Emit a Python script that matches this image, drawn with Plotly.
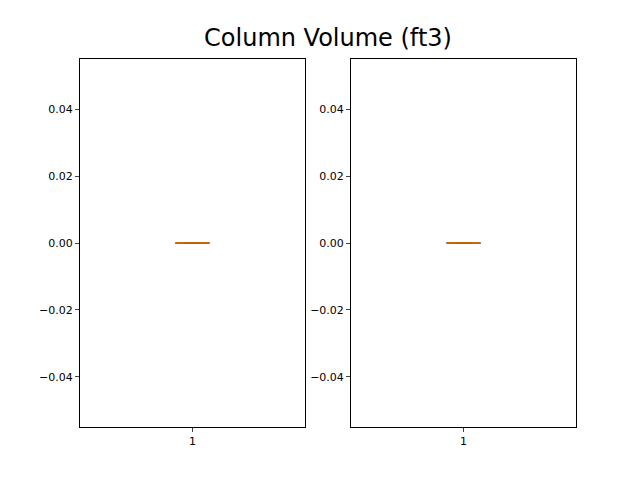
import numpy as np
import plotly.graph_objects as go
from plotly.subplots import make_subplots

# Column volume samples (all zero)
volumes_a = [0.0, 0.0, 0.0, 0.0]
volumes_b = [0.0, 0.0, 0.0, 0.0]
positions = [1]
yticks = [-0.04, -0.02, 0.0, 0.02, 0.04]

fig = make_subplots(rows=1, cols=2, horizontal_spacing=0.093)

for col, vals in [(1, volumes_a), (2, volumes_b)]:
    fig.add_trace(go.Box(x=[positions[0]] * len(vals), y=vals, width=0.15,
                         line=dict(color="black", width=1), fillcolor="rgba(0,0,0,0)",
                         boxpoints=False, showlegend=False), row=1, col=col)
    med = float(np.median(vals))
    fig.add_trace(go.Scatter(x=[positions[0] - 0.075, positions[0] + 0.075], y=[med, med],
                             mode="lines", line=dict(color="#ff7f0e", width=1.5),
                             showlegend=False, hoverinfo="skip"), row=1, col=col)
    fig.update_xaxes(range=[0.5, 1.5], tickvals=positions, ticktext=["1"],
                     showline=True, mirror=True, linecolor="black", ticks="outside",
                     ticklen=4, showgrid=False, zeroline=False, row=1, col=col)
    fig.update_yaxes(range=[-0.055, 0.055], tickvals=yticks, tickformat=".2f",
                     showline=True, mirror=True, linecolor="black", ticks="outside",
                     ticklen=4, showgrid=False, zeroline=False, row=1, col=col)

fig.update_layout(
    width=640, height=480, plot_bgcolor="white", paper_bgcolor="white",
    margin=dict(l=72, r=72, t=51, b=61),
    font=dict(family="DejaVu Sans", size=11, color="black"),
    title=dict(text="Column Volume (ft3)", x=0.5, y=0.955, xanchor="center",
               font=dict(size=24)),
)

fig.write_html("out.html")
